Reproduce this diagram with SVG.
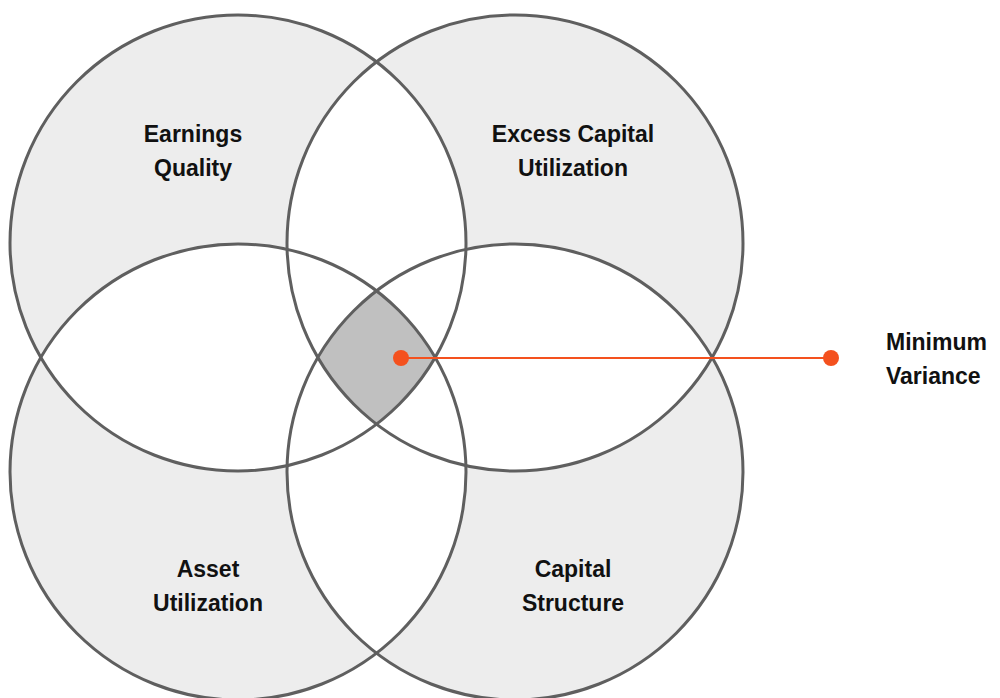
<svg xmlns="http://www.w3.org/2000/svg" width="1000" height="698" viewBox="0 0 1000 698">
<style>
.c{fill:#ededed;stroke:none}
.w{fill:#ffffff;stroke:none}
.o{fill:none;stroke:#5f5f5f;stroke-width:3}
.t{font-family:"Liberation Sans",Arial,sans-serif;font-weight:bold;font-size:23px;fill:#111;text-anchor:middle}
</style>
<defs>
<clipPath id="kTL"><circle cx="238" cy="243" r="228"/></clipPath>
<clipPath id="kTR"><circle cx="515" cy="243" r="228"/></clipPath>
<clipPath id="kBL"><circle cx="238" cy="472" r="228"/></clipPath>
<clipPath id="kBR"><circle cx="515" cy="472" r="228"/></clipPath>
</defs>
<rect width="1000" height="698" fill="#ffffff"/>
<g id="fills">
<circle class="c" cx="238" cy="243" r="228"/>
<circle class="c" cx="515" cy="243" r="228"/>
<circle class="c" cx="238" cy="472" r="228"/>
<circle class="c" cx="515" cy="472" r="228"/>
<circle class="w" cx="238" cy="243" r="228" clip-path="url(#kTR)"/>
<circle class="w" cx="238" cy="243" r="228" clip-path="url(#kBL)"/>
<circle class="w" cx="238" cy="243" r="228" clip-path="url(#kBR)"/>
<circle class="w" cx="515" cy="243" r="228" clip-path="url(#kBL)"/>
<circle class="w" cx="515" cy="243" r="228" clip-path="url(#kBR)"/>
<circle class="w" cx="238" cy="472" r="228" clip-path="url(#kBR)"/>
<path id="core" d="M376.5,291 A228,228 0 0 1 435,357.5 A228,228 0 0 1 376.5,424 A228,228 0 0 1 318,357.5 A228,228 0 0 1 376.5,291 Z" fill="#c0c0c0"/>
</g>
<g id="earnings-quality">
<circle class="o" cx="238" cy="243" r="228"/>
<text class="t" x="193" y="142">Earnings</text>
<text class="t" x="193" y="176">Quality</text>
</g>
<g id="excess-capital">
<circle class="o" cx="515" cy="243" r="228"/>
<text class="t" x="573" y="142">Excess Capital</text>
<text class="t" x="573" y="176">Utilization</text>
</g>
<g id="asset-utilization">
<circle class="o" cx="238" cy="472" r="228"/>
<text class="t" x="208" y="577">Asset</text>
<text class="t" x="208" y="611">Utilization</text>
</g>
<g id="capital-structure">
<circle class="o" cx="515" cy="472" r="228"/>
<text class="t" x="573" y="577">Capital</text>
<text class="t" x="573" y="611">Structure</text>
</g>
<g id="connectors">
<line x1="401" y1="358" x2="831" y2="358" stroke="#f4511e" stroke-width="2"/>
<circle cx="401" cy="358" r="8" fill="#f4511e"/>
<circle cx="831" cy="358" r="8" fill="#f4511e"/>
</g>
<g id="minimum-variance">
<text class="t" x="886" y="350" style="text-anchor:start">Minimum</text>
<text class="t" x="886" y="384" style="text-anchor:start">Variance</text>
</g>
</svg>
